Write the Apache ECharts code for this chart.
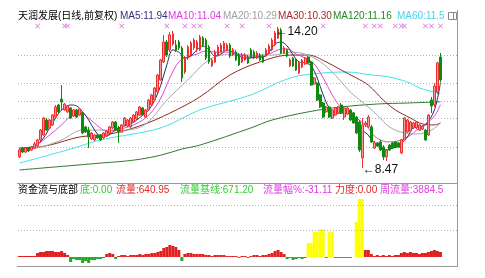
<!DOCTYPE html>
<html><head><meta charset="utf-8">
<script src="https://cdn.jsdelivr.net/npm/echarts/dist/echarts.min.js"></script>
<style>html,body{margin:0;padding:0;background:#fff}#c{width:485px;height:278px}</style>
</head><body><div id="c"></div>
<script>
// ---- data: [open, close, low, high]
const candles = [
[8.92,9.20,8.88,9.28],[9.28,9.12,9.08,9.32],[9.12,9.28,9.08,9.32],[9.28,9.16,9.12,9.32],[9.20,9.32,9.16,9.36],
[9.28,9.45,9.24,9.53],[9.36,9.61,9.32,9.65],[9.61,10.01,9.57,10.05],[9.81,10.50,9.77,10.54],[10.42,10.01,9.97,10.50],
[10.09,10.42,10.05,10.46],[10.22,10.62,10.18,10.66],[10.54,10.95,10.50,11.03],[11.03,10.75,10.71,11.07],[11.27,11.15,10.83,11.84],
[10.83,11.07,10.79,11.11],[10.75,10.99,10.71,11.03],[10.91,10.50,10.46,10.95],[10.58,10.83,10.54,10.87],[10.83,10.54,10.50,10.87],
[10.62,10.87,10.58,10.91],[10.71,9.89,9.85,10.75],[10.14,9.93,9.89,10.18],[10.01,9.73,9.28,10.14],[9.65,9.89,9.61,9.93],
[9.61,9.81,9.57,9.85],[9.81,9.69,9.65,9.85],[9.81,9.61,9.57,9.85],[9.69,9.89,9.65,9.93],[9.77,9.97,9.73,10.01],
[9.89,10.14,9.85,10.18],[10.10,10.34,10.05,10.38],[10.34,10.01,9.97,10.38],[10.10,9.93,9.49,10.18],[9.93,10.22,9.89,10.26],
[10.22,10.50,10.18,10.54],[10.18,10.42,10.14,10.46],[10.14,10.50,10.10,10.54],[10.34,10.62,10.30,10.66],[10.46,10.75,10.42,10.79],
[10.62,10.95,10.58,10.99],[10.91,10.62,10.58,10.95],[10.54,10.83,10.50,10.87],[10.83,11.23,10.79,11.27],[11.03,11.44,10.99,11.48],
[11.23,11.72,11.19,11.76],[11.56,12.25,11.52,12.29],[12.05,12.86,12.01,12.90],[12.78,13.59,12.74,13.87],[13.59,13.06,12.98,13.67],
[13.27,13.88,13.18,13.99],[13.51,13.92,13.43,14.04],[13.47,13.27,13.18,13.67],[13.59,13.35,13.27,13.67],[13.35,12.13,11.96,13.43],
[12.37,12.94,12.29,13.02],[12.94,13.39,12.86,13.47],[13.06,13.55,12.98,13.63],[13.35,13.67,13.27,13.75],[13.27,13.59,13.18,13.67],
[13.27,13.79,13.22,13.88],[13.75,13.47,13.39,13.83],[13.67,12.94,12.86,13.75],[13.39,12.78,12.70,13.47],[12.62,12.86,12.57,12.94],
[12.78,13.18,12.74,13.27],[13.06,13.39,13.02,13.47],[13.18,13.47,13.14,13.55],[13.27,13.55,13.22,13.63],[13.27,13.47,13.22,13.55],
[13.47,13.02,12.94,13.55],[13.06,13.27,13.02,13.35],[13.18,12.86,12.82,13.27],[13.06,12.66,12.62,13.14],[12.78,13.06,12.74,13.14],
[12.86,13.06,12.82,13.14],[12.98,12.74,12.70,13.06],[13.27,12.98,12.94,13.35],[13.18,12.94,12.90,13.27],[12.94,13.14,12.90,13.22],
[13.06,12.86,12.82,13.14],[13.02,12.78,12.74,13.10],[13.02,13.27,12.98,13.35],[13.14,13.43,13.10,13.51],[13.27,13.67,13.22,13.75],
[13.47,13.96,13.43,14.04],[13.75,14.12,13.71,14.20],[14.08,13.14,13.10,14.16],[13.14,13.35,13.10,13.43],[13.27,13.02,12.98,13.31],
[12.62,12.86,12.57,12.94],[12.94,12.62,12.57,12.98],[12.86,12.45,12.41,12.90],[12.33,12.74,12.29,12.78],[12.57,12.86,12.53,12.90],
[12.70,12.94,12.66,12.98],[12.98,12.74,12.70,13.02],[12.78,11.84,11.80,12.82],[11.88,12.13,11.84,12.17],[11.92,11.23,11.19,11.96],
[11.44,10.95,10.91,11.48],[11.11,10.54,10.50,11.15],[10.75,10.95,10.71,10.99],[10.95,10.54,10.50,10.99],[10.50,10.83,10.46,10.87],
[10.62,10.91,10.58,10.95],[10.71,10.95,10.66,10.99],[11.03,10.71,10.66,11.11],[10.54,10.91,10.42,10.99],[10.66,10.91,10.62,10.95],
[10.83,10.42,10.38,10.87],[10.71,10.30,10.26,10.75],[10.54,9.89,9.85,10.58],[10.34,9.20,9.12,10.42],[8.88,10.22,8.47,10.50],
[10.22,10.30,10.14,10.38],[10.14,10.54,10.10,10.62],[10.14,9.53,9.49,10.22],[9.28,9.49,9.24,9.57],[9.49,9.36,9.32,9.53],
[9.53,9.20,9.16,9.61],[9.32,8.92,8.79,9.40],[8.92,9.20,8.75,9.24],[9.40,9.20,9.16,9.45],[9.49,9.28,9.24,9.53],
[9.53,9.32,9.28,9.57],[9.49,9.32,9.28,9.53],[9.08,9.61,9.04,9.65],[9.61,10.50,9.57,10.54],[9.93,10.42,9.89,10.46],
[9.97,10.34,9.93,10.38],[10.10,10.30,10.05,10.34],[10.10,10.34,10.05,10.38],[10.01,10.22,9.97,10.26],[10.05,10.18,10.01,10.22],
[10.01,9.61,9.57,10.05],[9.81,10.62,9.77,10.66],[11.23,10.99,10.70,11.36],[11.03,11.80,10.95,11.92],[11.56,12.74,11.48,12.78],
[12.98,12.05,11.96,13.14]
];
// moving averages: [candle index, value]
const ma5 = [[0,9.28],[5,9.36],[8,9.69],[10,10.10],[12,10.50],[14,10.83],[17,11.03],[19,10.99],[21,10.75],[23,10.42],[25,10.01],[27,9.77],[29,9.77],[31,9.93],[33,10.10],[35,10.18],[37,10.26],[39,10.42],[41,10.62],[43,10.83],[45,11.23],[47,11.84],[49,12.66],[51,13.27],[53,13.18],[55,12.94],[57,13.02],[59,13.27],[61,13.43],[63,13.27],[65,13.02],[67,13.10],[69,13.27],[71,13.18],[73,13.02],[75,12.94],[77,12.94],[79,12.98],[81,12.98],[83,13.18],[85,13.51],[87,13.59],[89,13.43],[91,13.06],[93,12.78],[95,12.74],[97,12.61],[99,12.13],[101,11.44],[103,10.91],[105,10.70],[107,10.70],[109,10.70],[111,10.54],[113,10.10],[116,9.81],[117,9.61],[120,9.32],[122,9.20],[124,9.28],[126,9.36],[129,9.73],[131,10.10],[133,10.14],[135,10.22],[138,10.83],[140,11.94]];
const ma10 = [[0,9.20],[5,9.36],[10,9.81],[14,10.22],[17,10.58],[20,10.75],[23,10.50],[26,10.18],[29,9.97],[32,10.01],[35,10.10],[38,10.22],[41,10.42],[44,10.75],[47,11.31],[50,12.13],[53,12.78],[56,12.98],[59,13.10],[62,13.22],[65,13.18],[68,13.18],[71,13.18],[74,13.06],[77,12.98],[80,12.98],[83,13.10],[86,13.27],[89,13.31],[92,13.10],[95,12.94],[98,12.70],[101,12.13],[104,11.44],[107,10.91],[110,10.66],[113,10.42],[116,10.10],[118,9.77],[121,9.56],[123,9.53],[126,9.57],[129,9.73],[131,9.89],[133,10.10],[135,10.26],[138,10.58],[140,11.04]];
const ma20 = [[0,9.20],[7,9.32],[14,9.61],[21,10.01],[28,10.01],[35,10.01],[42,10.26],[49,11.23],[56,12.05],[63,12.86],[70,13.10],[77,13.06],[84,13.06],[91,13.18],[98,12.94],[104,12.37],[110,11.56],[114,11.15],[119,10.62],[123,10.14],[128,9.89],[132,9.85],[137,10.01],[140,10.29]];
const ma30 = [[0,9.20],[10,9.40],[20,9.73],[30,9.85],[40,10.18],[50,10.70],[60,11.36],[70,12.25],[80,12.78],[90,13.06],[96,13.06],[102,12.78],[107,12.45],[112,12.13],[116,11.84],[121,11.23],[125,10.83],[130,10.50],[134,10.26],[138,10.22],[140,10.30]];
const ma60 = [[0,8.67],[17,9.24],[27,9.61],[47,10.10],[60,10.83],[77,11.44],[90,12.13],[101,12.33],[109,12.37],[117,12.25],[123,12.17],[130,11.92],[133,11.72],[140,11.50]];
const ma120 = [[0,8.39],[27,8.67],[38,8.79],[47,8.99],[54,9.24],[60,9.40],[77,10.10],[84,10.42],[96,10.75],[107,10.95],[119,11.07],[129,11.11],[140,11.16]];
// 资金流 bars (per candle) and yellow bottom-signal bars [index, value]
const flow = [1,1,1,1,1,1, 4,5,5,6,6,6,5,5,6,4, 2, -5,-2,-3,-3,-6,-4,-6,-3,-3,-2,-2,-1, 3,4,3,-2,
 1,2,2,1,2,2,2,3,2,3,3,4,4,5, 6,9,10,12,11,10,7, -4,3,4,4,3,3,3,3,2, 2,1,2,2,2,2,1,1,1,
 1,-1,1,1,-1,1, 2,2,1,2,2,3, 4,6,7,5,3, -2,-1,-3,-2,-1,-2,-1, 0,0,0,0,0,0,-1,0,0,
 -1,-1,-1,-1,-1,-1,0, 0,0,0, 7,7,3, 1,2,1,2,1,2,1,2,2, 4,5,4,5,4,4,3,4,4, 5,6,7,6,5];
const bottomSignal = [[96,14],[97,14],[98,25],[99,25],[100,28],[101,28],[103,25],[104,25],[112,35],[113,58],[114,58]];
const signalIdx = [6,15,16,34,49,55,58,60,69,74,83,101,115,118,120,125,127,128,135,137,140];
const priceGrid = [13.06, 11.92, 11.19, 10.50, 9.32];
const flowGrid = [27, 52];
const titleTexts = [['天润发展(日线,前复权)','#000000',18],['MA5:11.94','#34347c',120],['MA10:11.04','#e03ce0',168],['MA20:10.29','#a0a0a0',223],['MA30:10.30','#a82828',278],['MA120:11.16','#228a22',333],['MA60:11.5','#44d4ee',397]];
const subTexts = [['资金流与底部','#000000',18],['底:0.00','#33cc33',80],['流量:640.95','#e02828',116],['流量基线:671.20','#33cc33',180],['流量幅%:-31.11','#e03ce0',263],['力度:0.00','#e02828',335],['周流量:3884.5','#e03ce0',380]];

const PAD = 5;
const days = candles.map((_, i) => 'd' + i).concat(Array.from({length: PAD}, (_, i) => 'p' + i));
const FONT = '10px "Liberation Sans", "Noto Sans CJK SC", sans-serif';

const chart = echarts.init(document.getElementById('c'), null, {renderer: 'canvas'});
const maLine = (name, data, color) => ({
  name, type: 'line', data, xAxisIndex: 0, yAxisIndex: 0, showSymbol: false, smooth: 0.35,
  lineStyle: {color, width: 1}, silent: true, z: 3
});
const graphic = [];
titleTexts.forEach(([t, c, x]) => graphic.push({type: 'text', left: x, top: 11, style: {text: t, fill: c, font: FONT}}));
subTexts.forEach(([t, c, x]) => graphic.push({type: 'text', left: x, top: 185, style: {text: t, fill: c, font: FONT}}));
graphic.push(
  {type: 'line', shape: {x1: 457.5, y1: 10, x2: 457.5, y2: 267}, style: {stroke: '#9a9a9a', lineWidth: 1}},
  {type: 'line', shape: {x1: 17, y1: 183.5, x2: 457.5, y2: 183.5}, style: {stroke: '#9a9a9a', lineWidth: 1}},
  {type: 'line', shape: {x1: 17, y1: 266.5, x2: 457.5, y2: 266.5}, style: {stroke: '#9a9a9a', lineWidth: 1}},
  {type: 'rect', shape: {x: 448.5, y: 12.5, width: 8, height: 7}, style: {stroke: '#888', fill: 'none', lineWidth: 1}},
  {type: 'line', shape: {x1: 453.5, y1: 12.5, x2: 453.5, y2: 19.5}, style: {stroke: '#888', lineWidth: 1}}
);

chart.setOption({
  animation: false,
  backgroundColor: '#ffffff',
  grid: [
    {left: 18, top: 20, width: 439, height: 163},
    {left: 18, top: 195, width: 439, height: 71}
  ],
  xAxis: [
    {type: 'category', data: days, gridIndex: 0, boundaryGap: true, show: false},
    {type: 'category', data: days, gridIndex: 1, boundaryGap: true, show: false}
  ],
  yAxis: [
    {type: 'value', gridIndex: 0, min: 7.86, max: 14.484, show: false, scale: true},
    {type: 'value', gridIndex: 1, min: -9, max: 62, show: false}
  ],
  graphic,
  series: [
    {
      name: 'K', type: 'candlestick', data: candles, xAxisIndex: 0, yAxisIndex: 0,
      barWidth: 2.2, z: 4,
      itemStyle: {color: '#f59a9a', color0: '#0f8a0f', borderColor: '#ee3030', borderColor0: '#0f8a0f', borderWidth: 1},
      markLine: {
        silent: true, symbol: ['none', 'none'], label: {show: false}, z: 1,
        lineStyle: {color: '#b4b4b4', type: [1, 2], width: 1},
        data: priceGrid.map(v => ({yAxis: v}))
      },
      markPoint: {
        symbol: 'circle', symbolSize: 1, itemStyle: {color: 'rgba(0,0,0,0)'},
        label: {show: true, position: 'right', distance: 1, color: '#111', font: FONT,
          formatter: p => '←' + Number(p.value).toFixed(2)},
        data: [
          {type: 'max', valueDim: 'highest', label: {offset: [-4, 5]}},
          {type: 'min', valueDim: 'lowest', label: {offset: [-1, 2]}}
        ]
      }
    },
    maLine('MA120', ma120, '#2f7a2f'),
    maLine('MA60', ma60, '#48e0ec'),
    maLine('MA30', ma30, '#8a2a1e'),
    maLine('MA20', ma20, '#a8a8a8'),
    maLine('MA10', ma10, '#e046d8'),
    maLine('MA5', ma5, '#2c2c60'),
    {
      name: 'sig', type: 'scatter', xAxisIndex: 0, yAxisIndex: 0, silent: true,
      data: signalIdx.map(i => [i, 14.24]),
      symbol: 'path://M0,1L1,0L5,4L9,0L10,1L6,5L10,9L9,10L5,6L1,10L0,9L4,5Z', symbolSize: 5,
      itemStyle: {color: '#d84ad8'}
    },
    {
      name: 'flow', type: 'bar', data: flow, xAxisIndex: 1, yAxisIndex: 1, barCategoryGap: '15%',
      itemStyle: {color: p => p.value >= 0 ? '#e02020' : '#22aa22'},
      markLine: {
        silent: true, symbol: ['none', 'none'], label: {show: false},
        lineStyle: {color: '#b4b4b4', type: [1, 2], width: 1},
        data: flowGrid.map(v => ({yAxis: v}))
      }
    },
    {
      name: 'bottom', type: 'bar', data: bottomSignal, xAxisIndex: 1, yAxisIndex: 1,
      barGap: '-100%', barCategoryGap: '0%', itemStyle: {color: '#ffff00'}
    }
  ]
});
</script></body></html>
